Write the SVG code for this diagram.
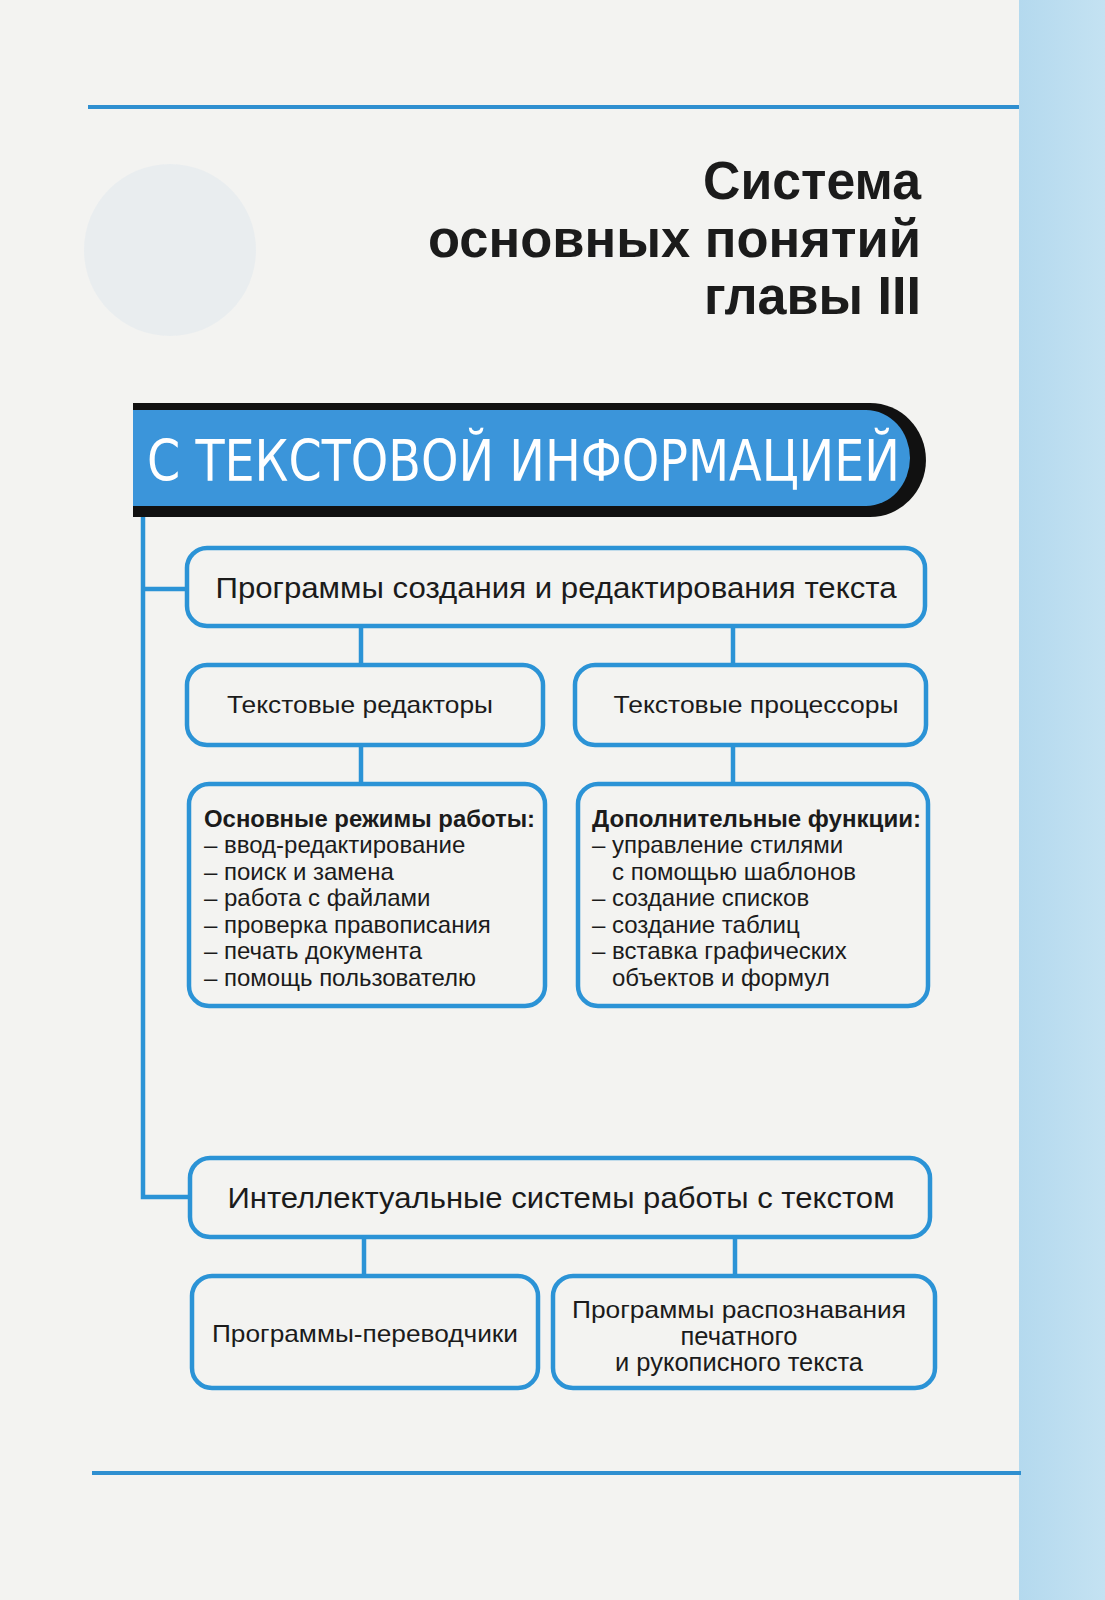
<svg xmlns="http://www.w3.org/2000/svg" width="1105" height="1600" viewBox="0 0 1105 1600">
<defs>
<style>
.box{fill:none;stroke:#2b93d6;stroke-width:4.5}
.conn{fill:none;stroke:#2b93d6;stroke-width:4.5}
.t{font-family:"Liberation Sans",Arial,sans-serif;fill:#1b1b1b}
.big{font-size:30px}
.mid{font-size:24px}
.sm{font-size:24px}
.b{font-weight:bold}
.rule{stroke:#2f8fd0;stroke-width:4}
</style>
<linearGradient id="strip" x1="0" y1="0" x2="1" y2="0">
<stop offset="0" stop-color="#b4d9ee"/>
<stop offset="1" stop-color="#c4e2f2"/>
</linearGradient>
</defs>
<rect x="0" y="0" width="1105" height="1600" fill="#f3f3f1"/>
<rect x="1019" y="0" width="86" height="1600" fill="url(#strip)"/>
<circle cx="170" cy="250" r="86" fill="#e3e9ee" opacity="0.6"/>
<line class="rule" x1="88" y1="107" x2="1019" y2="107"/>
<line class="rule" x1="92" y1="1473" x2="1021" y2="1473"/>

<g id="title" class="t b" text-anchor="end" style="font-size:53px">
<text x="921" y="199" textLength="218" lengthAdjust="spacingAndGlyphs">Система</text>
<text x="921" y="257" textLength="493" lengthAdjust="spacingAndGlyphs">основных понятий</text>
<text x="921" y="314" textLength="217" lengthAdjust="spacingAndGlyphs">главы III</text>
</g>

<g id="banner">
<path d="M133,403 H870 A56,57 0 0 1 870,517 H133 Z" fill="#111"/>
<path d="M133,410 H866 A44,48 0 0 1 866,506 H133 Z" fill="#3b95da"/>
<text x="147" y="481" textLength="753" lengthAdjust="spacingAndGlyphs" style="font-family:'DejaVu Sans',sans-serif;font-size:57px;fill:#fff">С ТЕКСТОВОЙ ИНФОРМАЦИЕЙ</text>
</g>

<g id="connectors">
<path class="conn" d="M143,517 V1197 H190"/>
<line class="conn" x1="143" y1="589" x2="187" y2="589"/>
<line class="conn" x1="361" y1="626" x2="361" y2="665"/>
<line class="conn" x1="733" y1="626" x2="733" y2="665"/>
<line class="conn" x1="361" y1="745" x2="361" y2="784"/>
<line class="conn" x1="733" y1="745" x2="733" y2="784"/>
<line class="conn" x1="364" y1="1237" x2="364" y2="1276"/>
<line class="conn" x1="735" y1="1237" x2="735" y2="1276"/>
</g>

<g id="n-programs">
<rect class="box" x="187" y="548" width="738" height="78" rx="20"/>
<text class="t big" x="556" y="598" text-anchor="middle" textLength="681" lengthAdjust="spacingAndGlyphs">Программы создания и редактирования текста</text>
</g>

<g id="n-editors">
<rect class="box" x="187" y="665" width="356" height="80" rx="20"/>
<text class="t mid" x="360" y="713" text-anchor="middle" textLength="266" lengthAdjust="spacingAndGlyphs">Текстовые редакторы</text>
</g>

<g id="n-processors">
<rect class="box" x="575" y="665" width="351" height="80" rx="20"/>
<text class="t mid" x="756" y="713" text-anchor="middle" textLength="285" lengthAdjust="spacingAndGlyphs">Текстовые процессоры</text>
</g>

<g id="n-modes">
<rect class="box" x="189" y="784" width="356" height="222" rx="20"/>
<text class="t sm b" x="204" y="827" textLength="331" lengthAdjust="spacingAndGlyphs">Основные режимы работы:</text>
<text class="t sm" x="204" y="853">– ввод-редактирование</text>
<text class="t sm" x="204" y="880">– поиск и замена</text>
<text class="t sm" x="204" y="906">– работа с файлами</text>
<text class="t sm" x="204" y="933">– проверка правописания</text>
<text class="t sm" x="204" y="959">– печать документа</text>
<text class="t sm" x="204" y="986">– помощь пользователю</text>
</g>

<g id="n-functions">
<rect class="box" x="578" y="784" width="350" height="222" rx="20"/>
<text class="t sm b" x="592" y="827" textLength="329" lengthAdjust="spacingAndGlyphs">Дополнительные функции:</text>
<text class="t sm" x="592" y="853">– управление стилями</text>
<text class="t sm" x="612" y="880">с помощью шаблонов</text>
<text class="t sm" x="592" y="906">– создание списков</text>
<text class="t sm" x="592" y="933">– создание таблиц</text>
<text class="t sm" x="592" y="959">– вставка графических</text>
<text class="t sm" x="612" y="986">объектов и формул</text>
</g>

<g id="n-intellect">
<rect class="box" x="190" y="1158" width="740" height="79" rx="20"/>
<text class="t big" x="561" y="1208" text-anchor="middle" textLength="667" lengthAdjust="spacingAndGlyphs">Интеллектуальные системы работы с текстом</text>
</g>

<g id="n-translators">
<rect class="box" x="192" y="1276" width="346" height="112" rx="20"/>
<text class="t mid" x="365" y="1342" text-anchor="middle" textLength="306" lengthAdjust="spacingAndGlyphs">Программы-переводчики</text>
</g>

<g id="n-ocr">
<rect class="box" x="553" y="1276" width="382" height="112" rx="20"/>
<text class="t mid" x="739" y="1318" text-anchor="middle" textLength="334" lengthAdjust="spacingAndGlyphs">Программы распознавания</text>
<text class="t" x="739" y="1345" text-anchor="middle" style="font-size:25.5px">печатного</text>
<text class="t" x="739" y="1371" text-anchor="middle" style="font-size:25.5px">и рукописного текста</text>
</g>
</svg>
